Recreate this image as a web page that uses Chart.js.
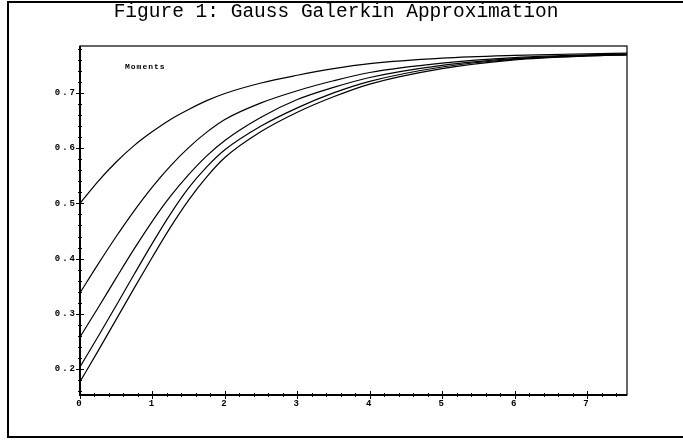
<!DOCTYPE html>
<html>
<head>
<meta charset="utf-8">
<script src="https://cdn.jsdelivr.net/npm/chart.js@4/dist/chart.umd.min.js"></script>
<style>
  html, body { margin: 0; padding: 0; background: #fff; }
  #wrap { position: relative; width: 683px; height: 440px; }
</style>
</head>
<body>
<div id="wrap"><canvas id="c" width="683" height="440"></canvas></div>
<script>
const titleText = 'Figure 1: Gauss Galerkin Approximation';
const legendText = 'Moments';
const tValues = [0, 0.25, 0.5, 0.75, 1, 1.25, 1.5, 1.75, 2, 2.5, 3, 3.5, 4, 5, 6, 7, 7.55];
const moment1 = [0.500, 0.540, 0.575, 0.605, 0.630, 0.652, 0.670, 0.686, 0.699, 0.718, 0.732, 0.744, 0.753, 0.763, 0.768, 0.771, 0.772];
const moment2 = [0.338, 0.390, 0.440, 0.487, 0.530, 0.568, 0.601, 0.629, 0.652, 0.682, 0.704, 0.722, 0.737, 0.754, 0.764, 0.769, 0.770];
const moment3 = [0.258, 0.311, 0.365, 0.418, 0.468, 0.513, 0.552, 0.586, 0.614, 0.656, 0.688, 0.710, 0.728, 0.750, 0.762, 0.768, 0.770];
const moment4 = [0.204, 0.259, 0.315, 0.372, 0.428, 0.481, 0.528, 0.566, 0.597, 0.640, 0.673, 0.700, 0.721, 0.747, 0.761, 0.767, 0.769];
const moment5 = [0.177, 0.233, 0.290, 0.347, 0.403, 0.457, 0.506, 0.548, 0.583, 0.630, 0.665, 0.693, 0.716, 0.744, 0.760, 0.767, 0.769];
const xTickLabels = ['0', '1', '2', '3', '4', '5', '6', '7'];
const yTickLabels = ['0.2', '0.3', '0.4', '0.5', '0.6', '0.7'];

const series = [moment1, moment2, moment3, moment4, moment5];

const datasets = series.map(s => ({
  data: tValues.map((t, i) => ({ x: t, y: s[i] })),
  borderColor: '#000',
  borderWidth: 1.2,
  pointRadius: 0,
  showLine: true,
  fill: false,
  cubicInterpolationMode: 'monotone'
}));

const decor = {
  id: 'decor',
  beforeDraw(chart) {
    const ctx = chart.ctx;
    ctx.save();
    ctx.fillStyle = '#fff';
    ctx.fillRect(0, 0, chart.width, chart.height);
    ctx.restore();
    ctx.letterSpacing = '2px';
  },
  afterDraw(chart) {
    const ctx = chart.ctx;
    const a = chart.chartArea;
    const xs = chart.scales.x, ys = chart.scales.y;
    ctx.save();
    ctx.letterSpacing = '0px';
    // outer frame
    ctx.strokeStyle = '#000';
    ctx.lineWidth = 2;
    ctx.strokeRect(8, 2, 700, 435);
    // plot box
    ctx.lineWidth = 1.2;
    ctx.strokeRect(a.left, a.top, a.right - a.left, a.bottom - a.top);
    ctx.lineWidth = 2;
    ctx.beginPath();
    ctx.moveTo(a.left, a.top); ctx.lineTo(a.left, a.bottom); ctx.lineTo(a.right, a.bottom);
    ctx.stroke();
    // ticks
    ctx.lineWidth = 1;
    for (let k = 0; k <= 37; k++) {
      const v = Math.round((0.16 + 0.02 * k) * 100) / 100;
      if (v > ys.max) break;
      const py = Math.round(ys.getPixelForValue(v)) + 0.5;
      const major = Math.abs(v * 10 - Math.round(v * 10)) < 1e-6;
      const l = major ? 4 : 2;
      ctx.beginPath(); ctx.moveTo(a.left - l, py); ctx.lineTo(a.left + l, py); ctx.stroke();
    }
    for (let k = 0; k <= 40; k++) {
      const v = Math.round(0.2 * k * 10) / 10;
      if (v > xs.max) break;
      const px = Math.round(xs.getPixelForValue(v)) + 0.5;
      const major = Math.abs(v - Math.round(v)) < 1e-6;
      const l = major ? 4 : 2;
      ctx.beginPath(); ctx.moveTo(px, a.bottom - l); ctx.lineTo(px, a.bottom + l); ctx.stroke();
    }
    // title
    ctx.fillStyle = '#000';
    ctx.font = '19.5px "Liberation Mono"';
    ctx.textAlign = 'center';
    ctx.textBaseline = 'alphabetic';
    ctx.fillText(titleText, 336, 17);
    // legend label
    ctx.font = 'bold 8px "Liberation Mono"';
    ctx.letterSpacing = '1px';
    ctx.textAlign = 'left';
    ctx.fillText(legendText, a.left + 45, a.top + 23);
    ctx.restore();
  }
};

new Chart(document.getElementById('c'), {
  type: 'scatter',
  data: { datasets },
  options: {
    responsive: false,
    animation: false,
    devicePixelRatio: 1,
    layout: { padding: { left: 0, top: 46, right: 56, bottom: 15 } },
    plugins: { legend: { display: false }, tooltip: { enabled: false }, title: { display: false } },
    scales: {
      x: {
        type: 'linear',
        min: 0,
        max: 7.552,
        grid: { display: false, drawTicks: false },
        border: { display: false },
        afterFit(s) { s.height = 30; },
        ticks: {
          stepSize: 1,
          includeBounds: false,
          padding: 3,
          color: '#000',
          font: { family: 'Liberation Mono', size: 9, weight: 'bold' },
          maxRotation: 0,
          callback(v) { const i = Math.round(v); return Math.abs(v - i) < 1e-6 ? xTickLabels[i] : ''; }
        }
      },
      y: {
        type: 'linear',
        min: 0.153,
        max: 0.785,
        grid: { display: false, drawTicks: false },
        border: { display: false },
        afterFit(s) { s.width = 80; },
        ticks: {
          stepSize: 0.1,
          includeBounds: false,
          padding: 3,
          color: '#000',
          font: { family: 'Liberation Mono', size: 9, weight: 'bold' },
          callback(v) { const i = Math.round(v * 10) - 2; return Math.abs(v * 10 - Math.round(v * 10)) < 1e-6 && yTickLabels[i] ? yTickLabels[i] : ''; }
        }
      }
    }
  },
  plugins: [decor]
});
</script>
</body>
</html>
